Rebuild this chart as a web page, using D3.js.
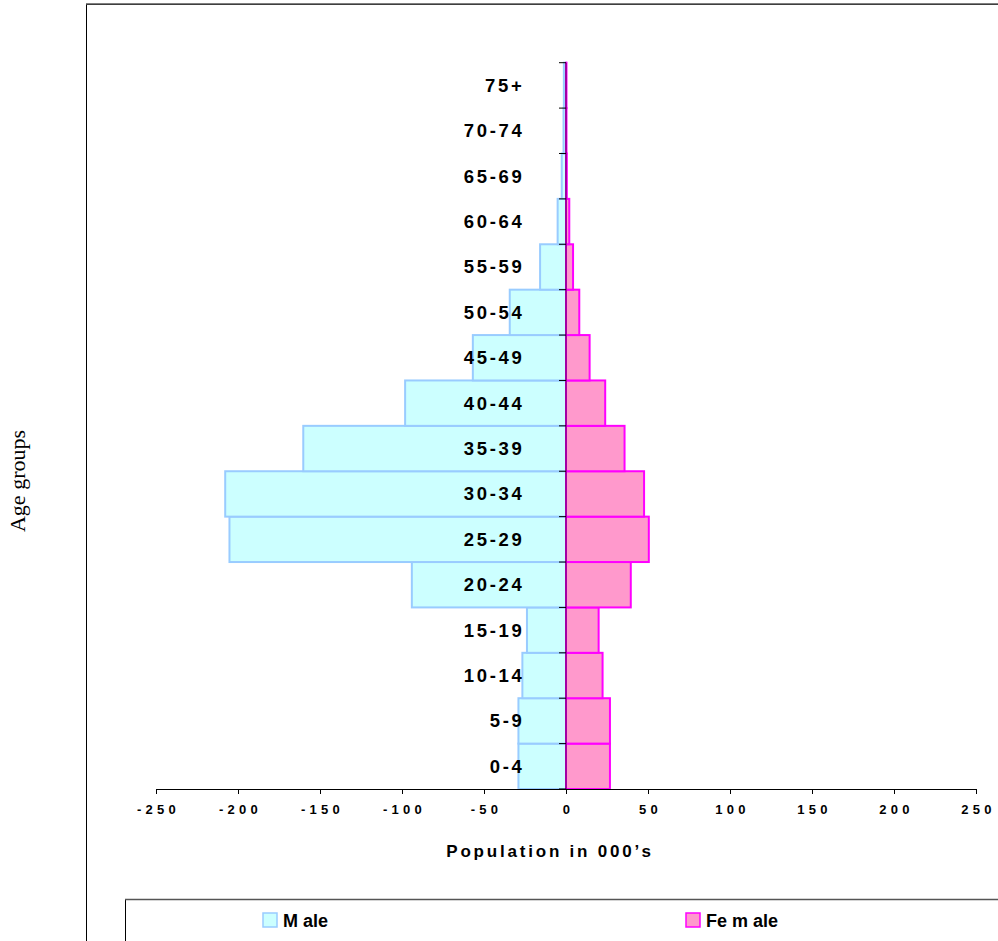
<!DOCTYPE html>
<html>
<head>
<meta charset="utf-8">
<script src="https://cdn.jsdelivr.net/npm/d3@7"></script>
<style>
    body { margin: 0; background: #fff; }
    svg { display: block; }
    .cat-label { font-family: "Liberation Sans", Arial, sans-serif; font-weight: bold; font-size: 18.5px; letter-spacing: 2.7px; }
    .tick-label { font-family: "Liberation Sans", Arial, sans-serif; font-weight: bold; font-size: 13px; letter-spacing: 4.2px; }
    .axis-title { font-family: "Liberation Sans", Arial, sans-serif; font-weight: bold; font-size: 17px; letter-spacing: 2.8px; }
    .legend-text { font-family: "Liberation Sans Narrow", "Arial Narrow", "Liberation Sans", sans-serif; font-weight: bold; font-size: 18px; }
</style>
</head>
<body>
<svg id="chart"></svg>
<script>
// Population pyramid - age groups by sex (thousands)

const ageGroups = ['0-4', '5-9', '10-14', '15-19', '20-24', '25-29', '30-34', '35-39',
    '40-44', '45-49', '50-54', '55-59', '60-64', '65-69', '70-74', '75+'];
const male = [-29, -29, -26.6, -23.8, -94, -205.2, -207.8, -160.2,
    -98.1, -56.8, -34.3, -15.8, -5.1, -2.6, -1.5, -1.3];
const female = [26.8, 26.8, 22.3, 19.9, 39.5, 50.5, 47.6, 35.7,
    23.9, 14.4, 8.1, 4.3, 2, 0.5, 0.3, 0.3];
const xTicks = [-250, -200, -150, -100, -50, 0, 50, 100, 150, 200, 250];

const width = 998, height = 941;

const svg = d3.select('#chart')
    .attr('width', width)
    .attr('height', height);

// Outer frame (runs off the right and bottom edges)
svg.append('rect')
    .attr('x', 86.5).attr('y', 4.5)
    .attr('width', 1000).attr('height', 1000)
    .attr('fill', 'none')
    .attr('stroke', '#000')
    .attr('stroke-width', 1);
svg.append('line')
    .attr('x1', 86).attr('x2', 998).attr('y1', 4).attr('y2', 4)
    .attr('stroke', '#555').attr('stroke-width', 1.5);

const x = d3.scaleLinear()
    .domain([-250, 250])
    .range([156, 976]);

const y = d3.scaleBand()
    .domain(ageGroups)
    .range([789, 62.7])
    .padding(0);

// Bars
const g = svg.append('g');

g.selectAll('rect.male')
    .data(ageGroups)
    .join('rect')
    .attr('class', 'male')
    .attr('x', (d, i) => x(male[i]))
    .attr('y', d => y(d))
    .attr('width', (d, i) => x(0) - x(male[i]))
    .attr('height', y.bandwidth())
    .attr('fill', '#CCFFFF')
    .attr('stroke', '#99CCFF')
    .attr('stroke-width', 2);

g.selectAll('rect.female')
    .data(ageGroups)
    .join('rect')
    .attr('class', 'female')
    .attr('x', x(0))
    .attr('y', d => y(d))
    .attr('width', (d, i) => x(female[i]) - x(0))
    .attr('height', y.bandwidth())
    .attr('fill', '#FF99CC')
    .attr('stroke', '#FF00FF')
    .attr('stroke-width', 2);

// Zero axis with tick marks at band boundaries
svg.append('line')
    .attr('x1', x(0)).attr('x2', x(0))
    .attr('y1', y.range()[1]).attr('y2', y.range()[0])
    .attr('stroke', '#660066').attr('stroke-width', 1.2);

const boundaries = ageGroups.map(d => y(d)).concat([y.range()[0]]);
svg.selectAll('line.cat-tick')
    .data(boundaries)
    .join('line')
    .attr('class', 'cat-tick')
    .attr('x1', x(0) - 7).attr('x2', x(0))
    .attr('y1', d => d).attr('y2', d => d)
    .attr('stroke', '#000').attr('stroke-width', 1);

// Category labels
svg.selectAll('text.cat-label')
    .data(ageGroups)
    .join('text')
    .attr('class', 'cat-label')
    .attr('x', 524.5)
    .attr('y', d => y(d) + y.bandwidth() / 2)
    .attr('dy', '0.35em')
    .attr('text-anchor', 'end')
    .text(d => d);

// Horizontal axis
const xAxis = svg.append('g')
    .attr('transform', 'translate(0,789)')
    .call(d3.axisBottom(x).tickValues(xTicks).tickSize(5).tickFormat(d => String(d)));
xAxis.select('.domain').attr('stroke', '#000');
xAxis.selectAll('.tick line').attr('stroke', '#000');
xAxis.selectAll('.tick text')
    .attr('class', 'tick-label')
    .attr('y', 16)
    .attr('dx', '2px')
    .attr('fill', '#000');

svg.append('text')
    .attr('class', 'axis-title')
    .attr('x', 550)
    .attr('y', 857)
    .attr('text-anchor', 'middle')
    .text('Population in 000\u2019s');

svg.append('text')
    .attr('transform', 'translate(25,481) rotate(-90)')
    .attr('text-anchor', 'middle')
    .attr('font-family', '"Liberation Serif", "Times New Roman", serif')
    .attr('font-size', 22)
    .text('Age groups');

// Legend box
svg.append('rect')
    .attr('x', 125.5).attr('y', 899.5)
    .attr('width', 1000).attr('height', 100)
    .attr('fill', '#fff')
    .attr('stroke', '#000')
    .attr('stroke-width', 1);
svg.append('line')
    .attr('x1', 125).attr('x2', 998).attr('y1', 899.5).attr('y2', 899.5)
    .attr('stroke', '#555').attr('stroke-width', 1.5);

const legendItems = [
    { label: 'M ale', fill: '#CCFFFF', stroke: '#99CCFF', x: 263 },
    { label: 'Fe m ale', fill: '#FF99CC', stroke: '#FF00FF', x: 686 }
];
const legend = svg.selectAll('g.legend')
    .data(legendItems)
    .join('g')
    .attr('class', 'legend')
    .attr('transform', d => `translate(${d.x},913)`);
legend.append('rect')
    .attr('width', 14).attr('height', 14)
    .attr('fill', d => d.fill)
    .attr('stroke', d => d.stroke)
    .attr('stroke-width', 1.5);
legend.append('text')
    .attr('class', 'legend-text')
    .attr('x', 20)
    .attr('y', 14)
    .text(d => d.label);
</script>
</body>
</html>
